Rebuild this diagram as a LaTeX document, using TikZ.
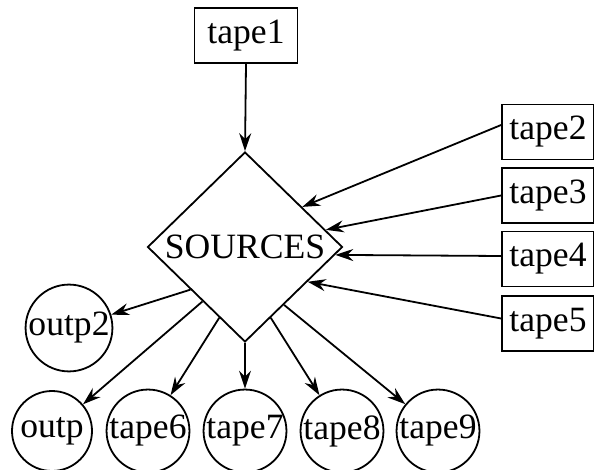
\documentclass[tikz,border=0pt]{standalone}
\usepackage{fontspec}
\setmainfont{Liberation Serif}
\usetikzlibrary{shapes.geometric,arrows.meta}
\tikzset{
  box/.style={draw, line width=0.9pt, minimum width=51.5pt, minimum height=27.5pt, inner sep=0pt},
  sbox/.style={draw, line width=0.9pt, minimum width=46pt, minimum height=27.5pt, inner sep=0pt},
  circ/.style={draw, circle, line width=0.9pt, minimum size=40pt, inner sep=0pt},
  dia/.style={draw, diamond, line width=0.9pt, minimum width=97.5pt, minimum height=95pt, inner sep=0pt},
  arr/.style={line width=0.9pt, -{Stealth[length=9pt,width=6pt,inset=3pt]}}
}
\begin{document}
\begin{tikzpicture}[x=0.5pt,y=-0.5pt,font=\fontsize{17.8}{20}\selectfont]
\useasboundingbox (0,0) rectangle (594,470);
\node[box] (t1) at (246,35.5) {tape1};
\node[dia] (S) at (245,247) {SOURCES};
\node[sbox] (t2) at (548,132) {tape2};
\node[sbox] (t3) at (548,195.5) {tape3};
\node[sbox] (t4) at (548,259) {tape4};
\node[sbox] (t5) at (548,323.5) {tape5};
\node[circ] (o2) at (69,328) {outp2};
\node[circ] (o) at (52,431) {outp};
\node[circ] (t6) at (148,431) {tape6};
\node[circ] (t7) at (245,431) {tape7};
\node[circ] (t8) at (342,431) {tape8};
\node[circ] (t9) at (438,431) {tape9};
\draw[arr] (t1.south) -- (S.north);
\draw[arr] ([yshift=3.5pt]t2.west) -- (S.35);
\draw[arr] (t3.west) -- (S.12);
\draw[arr] ([yshift=1.5pt]t4.west) -- (S.-5);
\draw[arr] ([yshift=2.5pt]t5.west) -- (S.-29);
\draw[arr] (S.218) -- (o2);
\draw[arr] (S.232) -- (o);
\draw[arr] (S.250) -- (t6);
\draw[arr] (S.south) -- (t7);
\draw[arr] (S.290) -- (t8);
\draw[arr] (S.304) -- (t9);
\end{tikzpicture}
\end{document}
